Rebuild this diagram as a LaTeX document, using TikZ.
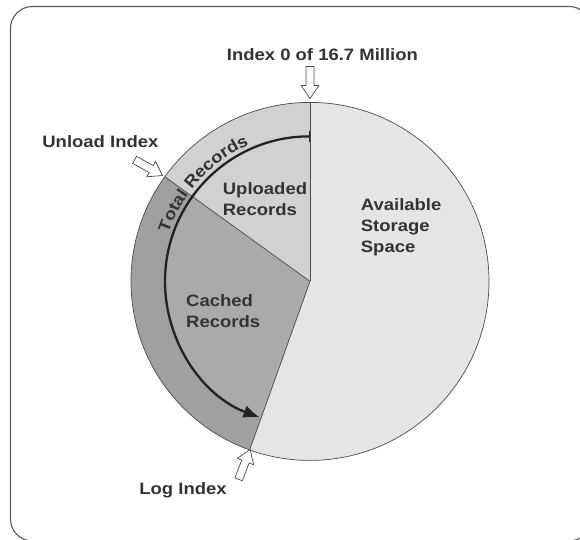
\documentclass[tikz,border=0pt]{standalone}
\usepackage{fontspec}
\setmainfont{Liberation Sans}[FakeStretch=1.12]
\usetikzlibrary{arrows.meta,calc,decorations.text}
\definecolor{txtgray}{HTML}{333333}
\definecolor{linegray}{HTML}{4A4A4A}
\definecolor{framegray}{HTML}{5A5A5A}
\definecolor{availfill}{HTML}{E5E5E7}
\definecolor{uplfill}{HTML}{D1D1D1}
\definecolor{cachefill}{HTML}{AAAAAC}
\definecolor{ringfill}{HTML}{A0A0A2}
\definecolor{arcgray}{HTML}{222222}
\newcommand\lblfont{\fontsize{16.5}{21}\selectfont\bfseries}
\tikzset{
  lbl/.style={font=\lblfont, text=txtgray, inner sep=0pt},
  wedgeline/.style={draw=linegray, line width=0.7pt},
  arcarrow/.style={draw=arcgray, line width=2.3pt, {Bar[width=11pt,line width=1.4pt]}-{Latex[length=16pt,width=13pt]}},
  blockarrow/.style={draw=linegray, fill=white, line width=0.7pt, line join=miter},
  hollow arrow/.pic={\path[blockarrow] (-32,-4) -- (-13,-4) -- (-13,-8.8) -- (0,0) -- (-13,8.8) -- (-13,4) -- (-32,4) -- cycle;}
}
\begin{document}
\begin{tikzpicture}[x=1pt,y=1pt]
\useasboundingbox (0,0) rectangle (580,539);
\clip (0,0) rectangle (580,539);
% frame
\draw[framegray, line width=1.1pt, rounded corners=22pt] (10.5,-2) rectangle (591,532.5);
% pie geometry
\coordinate (O) at (310,257.6);
\coordinate (top) at ($(O)+(90:179)$);
\coordinate (unloadpt) at ($(O)+(144.2:179)$);
\coordinate (logpt) at ($(O)+(250.3:179)$);
\coordinate (arcstart) at ($(O)+(90:145)$);
% fills
\fill[availfill] (O) -- (top) arc[start angle=90, end angle=-109.7, radius=179] -- cycle;
\fill[uplfill] (O) -- (top) arc[start angle=90, end angle=144.2, radius=179] -- cycle;
\fill[ringfill] (O) -- (unloadpt) arc[start angle=144.2, end angle=250.3, radius=179] -- cycle;
\fill[cachefill] (O) -- ($(O)+(144.2:145)$) arc[start angle=144.2, end angle=250.3, radius=145] -- cycle;
% outlines
\draw[wedgeline] (O) circle[radius=179];
\draw[wedgeline] (O) -- (top);
\draw[wedgeline] (O) -- (unloadpt);
\draw[wedgeline] (O) -- (logpt);
% total records arc arrow
\draw[arcarrow] (arcstart) arc[start angle=90, end angle=249.6, radius=145];
\path[decorate, decoration={text along path, text={|\lblfont|Total Records}, text align=center, text color=txtgray}]
  ([shift={(172.6:149.5)}]O) arc[start angle=172.6, end angle=102.6, radius=149.5];
% inner labels (base anchor = last line)
\node[lbl, align=left, anchor=base west] (upl) at (222.7,324) {Uploaded\\Records};
\node[lbl, align=left, anchor=base west] (avail) at (360.7,286.5) {Available\\Storage\\Space};
\node[lbl, align=left, anchor=base west] (cached) at (186,211.3) {Cached\\Records};
% outer labels
\node[lbl, anchor=base] (idx) at (322.4,478) {Index 0 of 16.7 Million};
\node[lbl, anchor=base] (unl) at (100.4,391.5) {Unload Index};
\node[lbl, anchor=base] (logi) at (183,45) {Log Index};
% hollow pointer arrows
\coordinate (idxtip) at (310,440.5);
\coordinate (unltip) at (162.5,363.5);
\coordinate (logtip) at (250.2,89.5);
\pic[rotate=-90] at (idxtip) {hollow arrow};
\pic[rotate=-29.3] at (unltip) {hollow arrow};
\pic[rotate=68.7] at (logtip) {hollow arrow};
\end{tikzpicture}
\end{document}
